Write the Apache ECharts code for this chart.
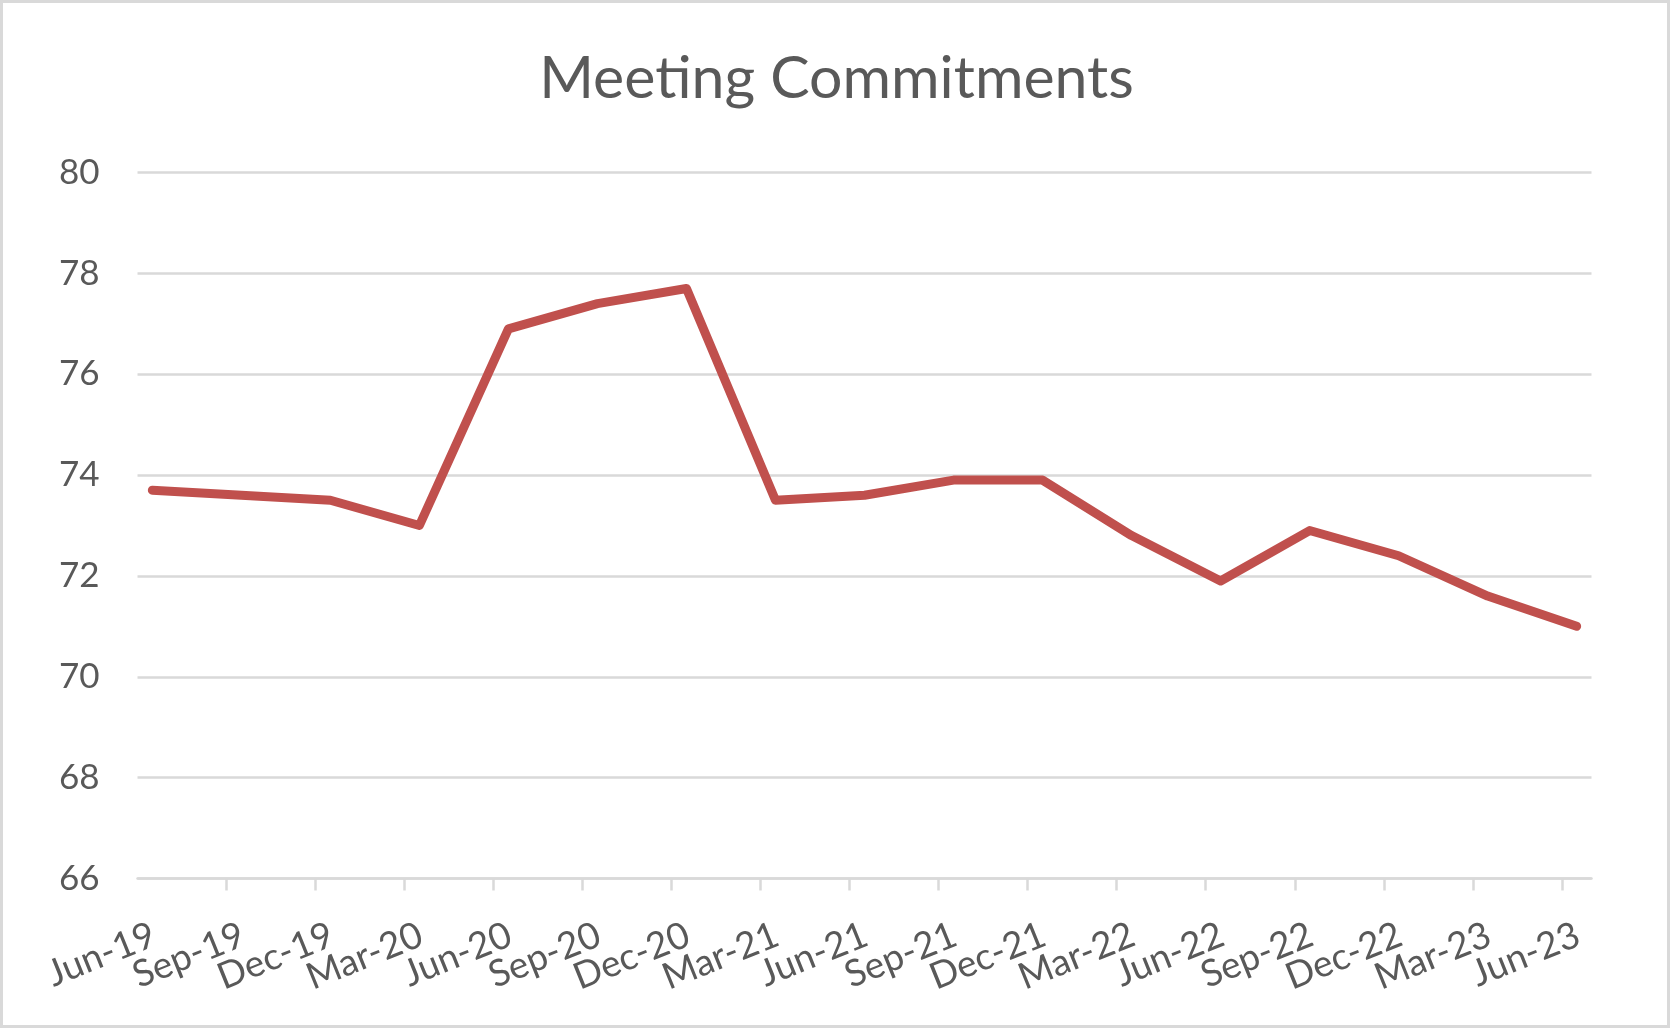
<!DOCTYPE html>
<html>
<head>
<meta charset="utf-8">
<script src="https://cdn.jsdelivr.net/npm/echarts@6/dist/echarts.min.js"></script>
<style>
  html, body { margin: 0; padding: 0; background: #ffffff; }
  #wrap { position: relative; width: 1673px; height: 1029px; }
  #chart { position: absolute; left: 0; top: 0; width: 1673px; height: 1029px; }
  #frame { position: absolute; left: 0; top: 0; width: 1670px; height: 1028px; box-sizing: border-box; border: 3px solid #d9d9d9; pointer-events: none; }
</style>
</head>
<body>
<div id="wrap"><div id="chart"></div><div id="frame"></div></div>
<script>
// ---- data ----
const categories = ['Jun-19','Sep-19','Dec-19','Mar-20','Jun-20','Sep-20','Dec-20','Mar-21','Jun-21','Sep-21','Dec-21','Mar-22','Jun-22','Sep-22','Dec-22','Mar-23','Jun-23'];
const values = [73.7, 73.6, 73.5, 73.0, 76.9, 77.4, 77.7, 73.5, 73.6, 73.9, 73.9, 72.8, 71.9, 72.9, 72.4, 71.6, 71.0];
const tickLabels = ['Jun-19','Sep-19','Dec-19','Mar-20','Jun-20','Sep-20','Dec-20','Mar-21','Jun-21','Sep-21','Dec-21','Mar-22','Jun-22','Sep-22','Dec-22','Mar-23','Jun-23'];
const yTicks = [66, 68, 70, 72, 74, 76, 78, 80];

// months since Jun 2019 (axis is a month-based date scale)
const MONTHS = ['Jan','Feb','Mar','Apr','May','Jun','Jul','Aug','Sep','Oct','Nov','Dec'];
function monthIndex(label) {
  const [m, y] = label.split('-');
  return (2000 + parseInt(y, 10) - 2019) * 12 + MONTHS.indexOf(m) - 5;
}
const X_MIN = 0, X_MAX = 49;
const tickValues = tickLabels.map(monthIndex);
// rotated labels end slightly to the right of their tick (as in the original)
const LABEL_SHIFT = 0.55;
const labelMap = {};
tickLabels.forEach((l, i) => { labelMap[(tickValues[i] + LABEL_SHIFT).toFixed(2)] = l; });
// blank placeholders at the axis ends so that no real label is treated as the min/max one
const labelValues = [X_MIN].concat(tickValues.map(v => v + LABEL_SHIFT), [X_MAX]);
// data points sit mid-month
const seriesData = categories.map((c, i) => [monthIndex(c) + 0.5, values[i]]);

const FONT = 'Lato';
const TXT = '#595959';
const GRID = '#d9d9d9';

const chart = echarts.init(document.getElementById('chart'), null, { renderer: 'canvas' });
chart.setOption({
  animation: false,
  backgroundColor: '#ffffff',
  title: {
    text: 'Meeting Commitments',
    left: 'center',
    top: 44,
    textStyle: { fontFamily: FONT, fontSize: 59, fontWeight: 'normal', color: TXT }
  },
  grid: { left: 137.5, right: 81.5, top: 172.5, bottom: 150.5, containLabel: false },
  xAxis: {
    type: 'value',
    min: X_MIN,
    max: X_MAX,
    interval: 3,
    axisLine: { show: true, lineStyle: { color: GRID, width: 2.5 } },
    axisTick: { show: true, length: 12, lineStyle: { color: GRID, width: 2.5 }, customValues: tickValues },
    splitLine: { show: false },
    axisLabel: {
      customValues: labelValues,
      showMinLabel: false,
      showMaxLabel: false,
      hideOverlap: false,
      rotate: 22,
      margin: 55,
      align: 'right',
      fontFamily: FONT,
      fontSize: 37,
      color: TXT,
      formatter: v => '{t|' + (labelMap[Number(v).toFixed(2)] || ' ') + '}',
      rich: {
        t: { width: 2, lineHeight: 16, align: 'right', fontFamily: FONT, fontSize: 37, color: TXT }
      }
    }
  },
  yAxis: {
    type: 'value',
    min: yTicks[0],
    max: yTicks[yTicks.length - 1],
    interval: 2,
    axisLine: { show: false },
    axisTick: { show: false },
    splitLine: { show: true, lineStyle: { color: GRID, width: 2.5 } },
    axisLabel: { margin: 38, fontFamily: FONT, fontSize: 35, color: TXT }
  },
  series: [{
    type: 'line',
    data: seriesData,
    showSymbol: false,
    symbol: 'none',
    lineStyle: { color: '#C0504D', width: 9, cap: 'round', join: 'round' },
    z: 5
  }]
});
</script>
</body>
</html>
